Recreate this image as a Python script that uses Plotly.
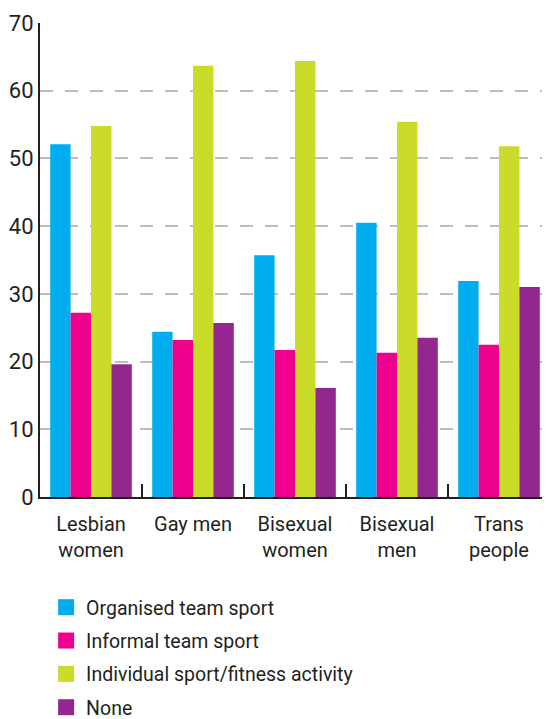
import plotly.graph_objects as go

# ─── Data ─────────────────────────────────────────────────────────────────────

groups = ["Lesbian<br>women", "Gay men", "Bisexual<br>women", "Bisexual<br>men", "Trans<br>people"]

organised_team = [52.1, 24.4, 35.7, 40.5, 31.9]
informal_team = [27.2, 23.2, 21.7, 21.3, 22.5]
individual_fitness = [54.8, 63.7, 64.4, 55.4, 51.8]
none_activity = [19.6, 25.7, 16.1, 23.5, 31.0]

series = [
    ("Organised team sport", organised_team, "#00AEEF"),
    ("Informal team sport", informal_team, "#EC008C"),
    ("Individual sport/fitness activity", individual_fitness, "#CBDB2A"),
    ("None", none_activity, "#92278F"),
]

FONT = "Roboto, Liberation Sans, sans-serif"
INK = "#231F20"

fig = go.Figure()

for name, values, colour in series:
    fig.add_trace(go.Bar(
        x=groups, y=values, name=name,
        marker=dict(color=colour, line_width=0),
        showlegend=False,
    ))

# legend swatches (bigger squares than the default bar swatch)
for name, values, colour in series:
    fig.add_trace(go.Scatter(
        x=[None], y=[None], name=name, mode="markers",
        marker=dict(symbol="square", size=18, color=colour),
        legendgroup=name,
    ))

# page body has an 8px margin, so the figure is sized/offset to compensate
fig.update_layout(
    width=542, height=711,
    margin=dict(l=32, r=0, t=15, b=222, autoexpand=False),
    barmode="group",
    bargap=0.2,
    bargroupgap=0,
    plot_bgcolor="white",
    paper_bgcolor="white",
    font=dict(family=FONT, color=INK, size=20),
    legend=dict(
        x=0.012, xanchor="left",
        y=-0.192, yanchor="top",
        font=dict(size=19.5, color=INK),
        tracegroupgap=5,
        itemsizing="trace",
    ),
)

fig.update_xaxes(
    showline=True, linecolor=INK, linewidth=2,
    ticks="inside", tickson="boundaries", ticklen=13, tickwidth=2, tickcolor=INK,
    tickfont=dict(size=20, color=INK),
    ticklabelstandoff=8,
    showgrid=False,
)
fig.update_yaxes(
    range=[0, 70], dtick=10,
    showline=True, linecolor=INK, linewidth=2,
    ticks="", tickfont=dict(size=22, color=INK),
    showgrid=True, gridcolor="#BDBDC2", gridwidth=2, griddash="13px,12px",
    zeroline=False,
)

fig.write_html("out.html")
